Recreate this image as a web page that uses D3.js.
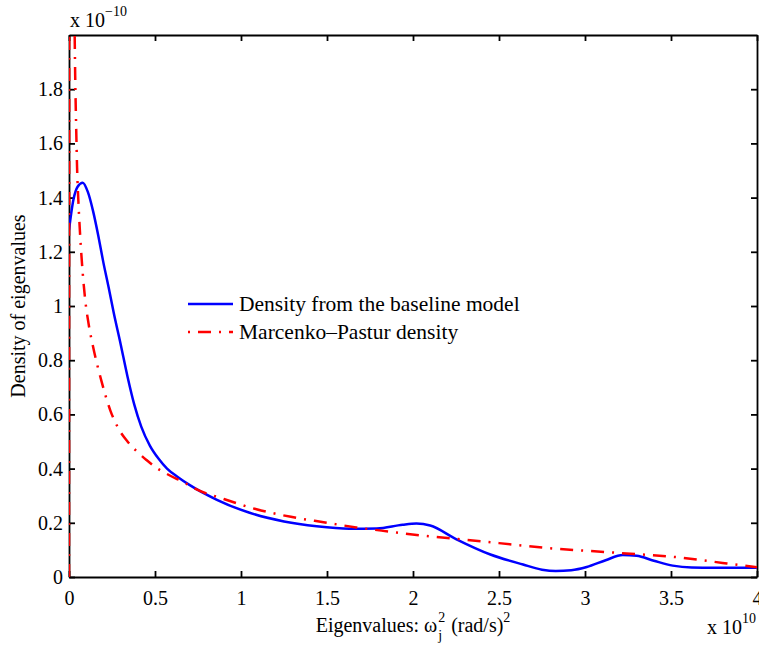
<!DOCTYPE html>
<html>
<head>
    <meta charset="utf-8">
    <script src="https://d3js.org/d3.v7.min.js"></script>
    <style>
        body { margin: 0; background: #fff; }
        text { font-family: "Liberation Serif", "Times New Roman", serif; }
    </style>
</head>
<body>
    <div id="chart"></div>

    <script>
        // data (x in units of 1e10 (rad/s)^2, y in units of 1e-10)
        const baseX = [0, 0.025, 0.05, 0.08, 0.11, 0.14, 0.17, 0.20, 0.23, 0.26, 0.30, 0.34, 0.38, 0.42, 0.47, 0.52, 0.57, 0.63, 0.70, 0.86, 1.05, 1.25, 1.44, 1.63, 1.79, 1.94, 2.02, 2.10, 2.25, 2.45, 2.64, 2.75, 2.83, 2.92, 3.01, 3.12, 3.22, 3.30, 3.40, 3.51, 3.62, 3.75, 3.90, 4.0];
        const baseY = [1.28, 1.39, 1.44, 1.455, 1.42, 1.35, 1.26, 1.16, 1.07, 0.975, 0.86, 0.74, 0.635, 0.555, 0.485, 0.437, 0.40, 0.37, 0.34, 0.285, 0.237, 0.205, 0.187, 0.178, 0.179, 0.193, 0.197, 0.19, 0.14, 0.083, 0.046, 0.027, 0.022, 0.025, 0.037, 0.062, 0.081, 0.078, 0.06, 0.042, 0.035, 0.034, 0.034, 0.034];

        const mpX = [0, 0.002, 0.032, 0.036, 0.042, 0.047, 0.055, 0.064, 0.08, 0.093, 0.115, 0.14, 0.19, 0.24, 0.29, 0.34, 0.40, 0.45, 0.51, 0.57, 0.68, 0.72, 0.90, 1.09, 1.29, 1.48, 1.67, 1.87, 2.08, 2.20, 2.50, 2.78, 3.17, 3.55, 3.80, 4.0];
        const mpY = [0, 3.0, 2.05, 1.85, 1.65, 1.51, 1.38, 1.27, 1.12, 1.03, 0.93, 0.85, 0.72, 0.615, 0.545, 0.50, 0.46, 0.432, 0.402, 0.38, 0.345, 0.33, 0.288, 0.25, 0.222, 0.202, 0.183, 0.167, 0.151, 0.144, 0.125, 0.107, 0.09, 0.072, 0.052, 0.036];

        const xTicks = [0, 0.5, 1, 1.5, 2, 2.5, 3, 3.5, 4];
        const yTicks = [0, 0.2, 0.4, 0.6, 0.8, 1, 1.2, 1.4, 1.6, 1.8];
        const legendLabels = ["Density from the baseline model", "Marcenko\u2013Pastur density"];

        const width = 759;
        const height = 646;
        const margin = {top: 35, right: 2, bottom: 69, left: 69};
        const innerWidth = width - margin.left - margin.right;
        const innerHeight = height - margin.top - margin.bottom;

        const svg = d3.select("#chart")
            .append("svg")
            .attr("width", width)
            .attr("height", height);

        const x = d3.scaleLinear().domain([0, 4]).range([margin.left, margin.left + innerWidth]);
        const y = d3.scaleLinear().domain([0, 2]).range([margin.top + innerHeight, margin.top]);

        svg.append("clipPath").attr("id", "clip")
            .append("rect")
            .attr("x", margin.left).attr("y", margin.top)
            .attr("width", innerWidth).attr("height", innerHeight);

        // axes (ticks inside, box all round)
        const fmt = d => String(d);
        svg.append("g")
            .attr("transform", `translate(0,${margin.top + innerHeight})`)
            .call(d3.axisBottom(x).tickValues(xTicks).tickFormat(fmt).tickSizeInner(-6).tickSizeOuter(0).tickPadding(14));
        svg.append("g")
            .attr("transform", `translate(0,${margin.top})`)
            .call(d3.axisTop(x).tickValues(xTicks).tickFormat("").tickSizeInner(-6).tickSizeOuter(0));
        svg.append("g")
            .attr("transform", `translate(${margin.left},0)`)
            .call(d3.axisLeft(y).tickValues(yTicks).tickFormat(fmt).tickSizeInner(-6).tickSizeOuter(0).tickPadding(6));
        svg.append("g")
            .attr("transform", `translate(${margin.left + innerWidth},0)`)
            .call(d3.axisRight(y).tickValues(yTicks).tickFormat("").tickSizeInner(-6).tickSizeOuter(0));

        svg.selectAll(".domain, .tick line").attr("stroke", "#000").attr("stroke-width", 1.8);
        svg.selectAll(".tick text")
            .attr("fill", "#000")
            .style("font-family", "'Liberation Serif', 'Times New Roman', serif")
            .style("font-size", "20px");

        // curves
        const line = d3.line()
            .x(d => x(d[0]))
            .y(d => y(d[1]))
            .curve(d3.curveMonotoneX);

        const plot = svg.append("g").attr("clip-path", "url(#clip)");

        plot.append("path")
            .datum(baseX.map((v, i) => [v, baseY[i]]))
            .attr("d", line)
            .attr("fill", "none")
            .attr("stroke", "#0000ff")
            .attr("stroke-width", 2.5);

        plot.append("path")
            .datum(mpX.map((v, i) => [v, mpY[i]]))
            .attr("d", line)
            .attr("fill", "none")
            .attr("stroke", "#ff0000")
            .attr("stroke-width", 2.5)
            .attr("stroke-dasharray", "13,8,2,8");

        // legend
        const legend = svg.append("g");
        const legendStyles = [
            {color: "#0000ff", dash: null, y: 304},
            {color: "#ff0000", dash: "2,8,13,8", y: 332}
        ];
        legendLabels.forEach((label, i) => {
            const s = legendStyles[i];
            legend.append("line")
                .attr("x1", 188).attr("x2", 233)
                .attr("y1", s.y).attr("y2", s.y)
                .attr("stroke", s.color)
                .attr("stroke-width", 2.5)
                .attr("stroke-dasharray", s.dash);
            legend.append("text")
                .attr("x", 239).attr("y", s.y)
                .attr("dy", "0.32em")
                .attr("font-size", 21.5)
                .text(label);
        });

        // y label
        svg.append("text")
            .attr("transform", `translate(25,${margin.top + innerHeight / 2}) rotate(-90)`)
            .attr("text-anchor", "middle")
            .attr("font-size", 20)
            .text("Density of eigenvalues");

        // x label with sub/superscripts
        const xl = svg.append("g");
        const base = 632;
        const t1 = xl.append("text").attr("x", 0).attr("y", base).attr("font-size", 20).text("Eigenvalues: \u03c9");
        let cx = t1.node().getComputedTextLength();
        xl.append("text").attr("x", cx + 1).attr("y", base - 10).attr("font-size", 14).text("2");
        xl.append("text").attr("x", cx + 1).attr("y", base + 8).attr("font-size", 14).text("j");
        cx += 9 + 5;
        const t2 = xl.append("text").attr("x", cx).attr("y", base).attr("font-size", 20).text("(rad/s)");
        cx += t2.node().getComputedTextLength();
        xl.append("text").attr("x", cx).attr("y", base - 10).attr("font-size", 14).text("2");
        cx += 7;
        xl.attr("transform", `translate(${(margin.left + innerWidth / 2) - cx / 2},0)`);

        // exponent labels
        const e1 = svg.append("text").attr("x", 70).attr("y", 27).attr("font-size", 20).text("x 10");
        svg.append("text").attr("x", 70 + e1.node().getComputedTextLength()).attr("y", 16).attr("font-size", 14).text("\u221210");
        const e2 = svg.append("text").attr("x", 707).attr("y", 634).attr("font-size", 20).text("x 10");
        svg.append("text").attr("x", 707 + e2.node().getComputedTextLength()).attr("y", 623).attr("font-size", 14).text("10");
    </script>
</body>
</html>
